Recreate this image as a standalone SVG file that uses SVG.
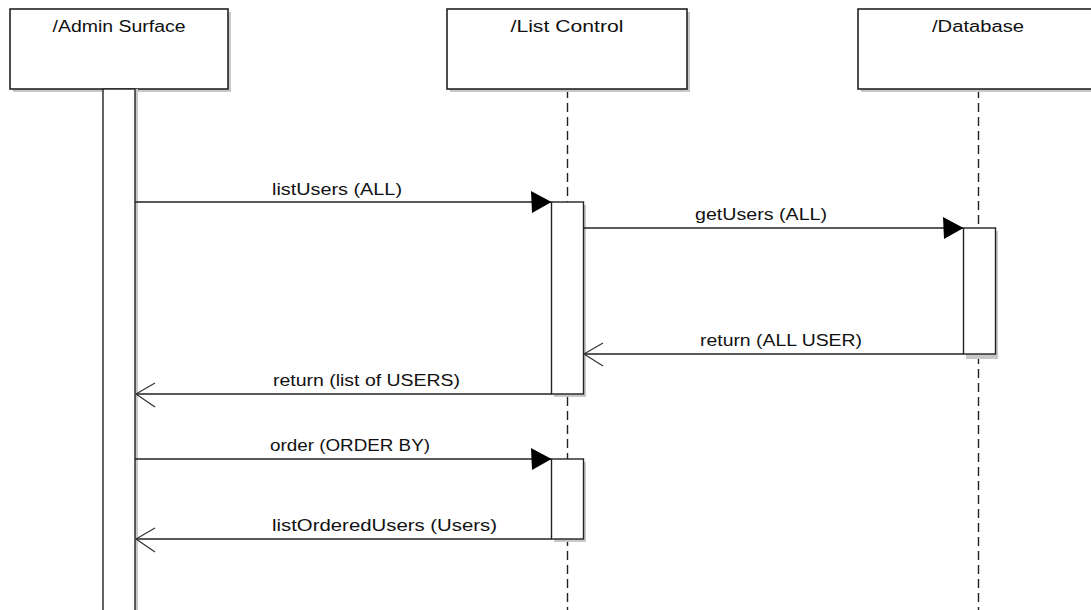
<svg xmlns="http://www.w3.org/2000/svg" width="1091" height="610" viewBox="0 0 1091 610">
<style>
.box{fill:#fff;stroke:#222;stroke-width:1.6}
.shadow{fill:#c8c8c8}
.bar{fill:#fff;stroke:#222;stroke-width:1.4}
.life{stroke:#222;stroke-width:1.4;stroke-dasharray:9 5;fill:none}
.msg{stroke:#222;stroke-width:1.4;fill:none}
.head{fill:#000}
.open{stroke:#333;stroke-width:1.2;fill:none}
text{font-family:"Liberation Sans",Arial,sans-serif;font-size:16px;fill:#111}
</style>
<rect width="1091" height="610" fill="#fff"/>
<g id="lifelines">
<line class="life" x1="567.5" y1="89" x2="567.5" y2="610"/>
<line class="life" x1="978.5" y1="89" x2="978.5" y2="610"/>
</g>
<g id="admin">
<rect class="shadow" x="13" y="12" width="218" height="80"/>
<rect class="box" x="10" y="9" width="218" height="80"/>
<text x="119" y="32" text-anchor="middle" textLength="133" lengthAdjust="spacingAndGlyphs">/Admin Surface</text>
<rect class="shadow" x="135" y="89" width="3" height="521"/>
<rect class="bar" x="103" y="89" width="32" height="530"/>
</g>
<g id="listcontrol">
<rect class="shadow" x="450" y="12" width="240" height="80"/>
<rect class="box" x="447" y="9" width="240" height="80"/>
<text x="567" y="32" text-anchor="middle" textLength="113" lengthAdjust="spacingAndGlyphs">/List Control</text>
</g>
<g id="database">
<rect class="shadow" x="861" y="12" width="240" height="80"/>
<rect class="box" x="858" y="9" width="240" height="80"/>
<text x="978" y="32" text-anchor="middle" textLength="92" lengthAdjust="spacingAndGlyphs">/Database</text>
</g>
<g id="activations">
<rect class="shadow" x="554" y="205" width="32" height="192"/>
<rect class="bar" x="551.5" y="202" width="32" height="192"/>
<rect class="shadow" x="966" y="231" width="32" height="128"/>
<rect class="bar" x="963.5" y="228" width="32" height="126"/>
<rect class="shadow" x="554" y="462" width="32" height="80"/>
<rect class="bar" x="551.5" y="459" width="32" height="80"/>
</g>
<g id="connectors">
<line class="msg" x1="135" y1="202" x2="551" y2="202"/>
<polygon class="head" points="531,191 551.5,202 532,213"/>
<line class="msg" x1="583.5" y1="228" x2="963" y2="228"/>
<polygon class="head" points="943,217 963.5,228 944,239"/>
<line class="msg" x1="963.5" y1="354" x2="584" y2="354"/>
<polyline class="open" points="603,343 584,354 603,366"/>
<line class="msg" x1="551.5" y1="394" x2="136" y2="394"/>
<polyline class="open" points="155,383 136,394 155,407"/>
<line class="msg" x1="135" y1="459" x2="551" y2="459"/>
<polygon class="head" points="531,448 551.5,459 532,470"/>
<line class="msg" x1="551.5" y1="539" x2="136" y2="539"/>
<polyline class="open" points="155,528 136,539 155,552"/>
</g>
<g id="labels">
<text x="272" y="195" textLength="130" lengthAdjust="spacingAndGlyphs">listUsers (ALL)</text>
<text x="695" y="220" textLength="132" lengthAdjust="spacingAndGlyphs">getUsers (ALL)</text>
<text x="700" y="346" textLength="162" lengthAdjust="spacingAndGlyphs">return (ALL USER)</text>
<text x="273" y="386" textLength="187" lengthAdjust="spacingAndGlyphs">return (list of USERS)</text>
<text x="270" y="451" textLength="160" lengthAdjust="spacingAndGlyphs">order (ORDER BY)</text>
<text x="272" y="531" textLength="225" lengthAdjust="spacingAndGlyphs">listOrderedUsers (Users)</text>
</g>
</svg>
